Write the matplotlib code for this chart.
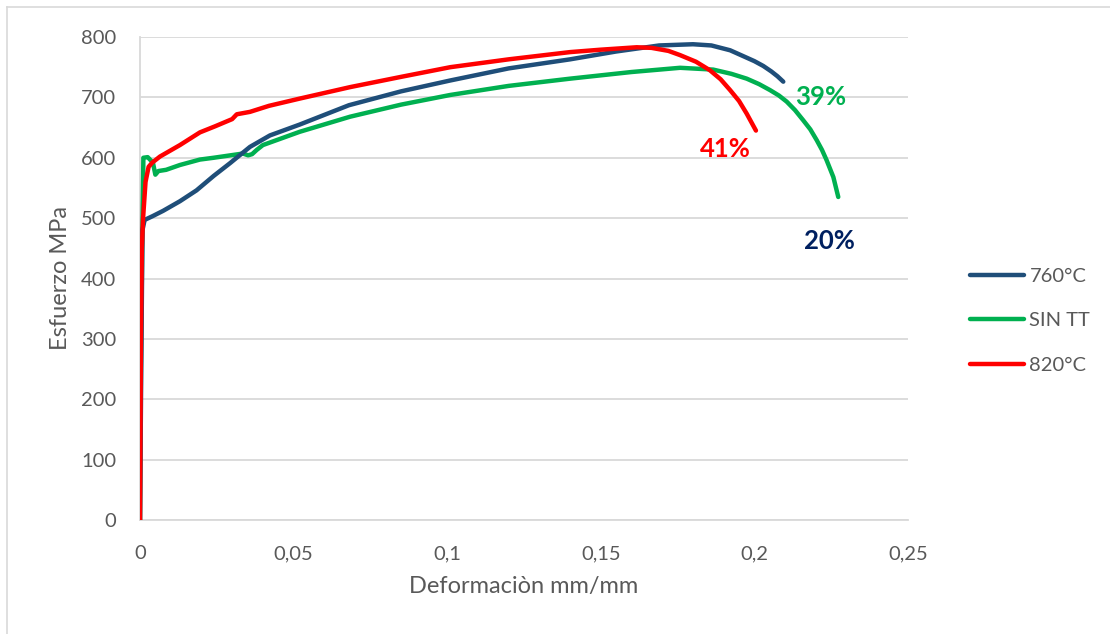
import matplotlib
matplotlib.use("Agg")
import matplotlib.pyplot as plt
from matplotlib.lines import Line2D
from matplotlib.ticker import FuncFormatter

# Stress-strain curves (strain in mm/mm, stress in MPa)
strain_760 = [0, 0.0004, 0.0008, 0.0015, 0.004, 0.0075, 0.013, 0.0184, 0.024, 0.0293,
              0.0358, 0.0423, 0.052, 0.068, 0.085, 0.101, 0.120, 0.140, 0.155, 0.169,
              0.180, 0.186, 0.1921, 0.1965, 0.2000, 0.2029, 0.2055, 0.2075, 0.2094]
stress_760 = [0, 250, 480, 497, 503, 512, 528, 546, 570, 591,
              618, 637, 655, 687, 710, 728, 748, 763, 776, 786,
              788, 786, 778, 768, 760, 752, 743, 735, 726]

strain_sin = [0, 0.0003, 0.0007, 0.0011, 0.0025, 0.0042, 0.005, 0.006, 0.0085, 0.013,
              0.0195, 0.024, 0.0335, 0.0352, 0.0365, 0.038, 0.040, 0.052, 0.0684, 0.085,
              0.101, 0.120, 0.140, 0.160, 0.1758, 0.1866, 0.1925, 0.1975, 0.2015, 0.2051,
              0.2080, 0.2105, 0.2132, 0.2159, 0.2182, 0.2203, 0.2220, 0.2235, 0.2257, 0.2273]
stress_sin = [0, 250, 450, 600, 601, 592, 572, 578, 580, 588,
              597, 600, 607, 604, 606, 613, 621, 643, 668, 688,
              704, 719, 731, 742, 749, 746, 739, 731, 722, 712,
              703, 693, 679, 662, 647, 629, 613, 596, 568, 535]

strain_820 = [0, 0.0003, 0.0006, 0.001, 0.0018, 0.0028, 0.004, 0.0065, 0.013, 0.0195,
              0.0244, 0.030, 0.0315, 0.0358, 0.042, 0.052, 0.0684, 0.085, 0.101, 0.120,
              0.140, 0.150, 0.1617, 0.1665, 0.1720, 0.1758, 0.1810, 0.1855, 0.1890, 0.1921,
              0.1950, 0.1975, 0.2005]
stress_820 = [0, 300, 450, 500, 560, 585, 592, 602, 621, 642,
              652, 664, 672, 676, 686, 698, 717, 734, 750, 763,
              775, 779, 783, 782, 777, 770, 759, 745, 730, 712,
              694, 673, 645]

series_labels = ["760°C", "SIN TT", "820°C"]
series_colors = ["#1F4E79", "#00B050", "#FF0000"]

# Elongation annotations: (text, x, y, colour)
annotations = [
    ("39%", 0.2215, 700, "#00B050"),
    ("41%", 0.1905, 614, "#FF0000"),
    ("20%", 0.2245, 462, "#002060"),
]

x_ticks = [0, 0.05, 0.1, 0.15, 0.2, 0.25]
y_ticks = list(range(0, 801, 100))

TEXT = "#595959"
plt.rcParams["font.family"] = ["Lato", "DejaVu Sans"]

fig = plt.figure(figsize=(11.10, 6.34), dpi=100)
ax = fig.add_axes([140 / 1110, 1 - 520 / 634, 768 / 1110, 483 / 634])

line_kw = dict(lw=3.2, solid_capstyle="round", solid_joinstyle="round")
ax.plot(strain_sin, stress_sin, color=series_colors[1], zorder=3, **line_kw)
ax.plot(strain_760, stress_760, color=series_colors[0], zorder=4, **line_kw)
ax.plot(strain_820, stress_820, color=series_colors[2], zorder=5, **line_kw)

for txt, x, y, c in annotations:
    ax.text(x, y, txt, color=c, fontsize=18.5, fontweight="bold",
            ha="center", va="center", zorder=6)

ax.set_xlim(0, 0.25)
ax.set_ylim(0, 800)
ax.set_xticks(x_ticks)
ax.set_yticks(y_ticks)
ax.xaxis.set_major_formatter(FuncFormatter(lambda v, p: ("%g" % v).replace(".", ",")))
ax.tick_params(axis="both", length=0, labelsize=14.5, labelcolor=TEXT)
ax.tick_params(axis="y", pad=17)
ax.tick_params(axis="x", pad=18)

ax.grid(axis="y", color="#D9D9D9", lw=1.3, zorder=0)
ax.set_axisbelow(True)
for side in ["top", "right"]:
    ax.spines[side].set_visible(False)
for side in ["left", "bottom"]:
    ax.spines[side].set_color("#D9D9D9")
    ax.spines[side].set_linewidth(1.3)

ax.set_xlabel("Deformaciòn mm/mm", fontsize=17, color=TEXT, labelpad=10)
ax.set_ylabel("Esfuerzo MPa", fontsize=17, color=TEXT, labelpad=7)

handles = [Line2D([0], [0], color=c, lw=3.2, solid_capstyle="round") for c in series_colors]
fig.legend(handles, series_labels, loc="upper left",
           bbox_to_anchor=(960 / 1110, 1 - 258 / 634), frameon=False,
           fontsize=14.5, handlelength=2.7, handletextpad=0.25,
           labelspacing=1.35, borderpad=0, labelcolor=TEXT)

# Chart-area frame edges
fig.add_artist(Line2D([7 / 1110, 1], [1 - 7 / 634, 1 - 7 / 634],
                      transform=fig.transFigure, color="#D9D9D9", lw=1.2))
fig.add_artist(Line2D([7 / 1110, 7 / 1110], [0, 1 - 7 / 634],
                      transform=fig.transFigure, color="#D9D9D9", lw=1.2))

fig.savefig("out.png", dpi=100)
